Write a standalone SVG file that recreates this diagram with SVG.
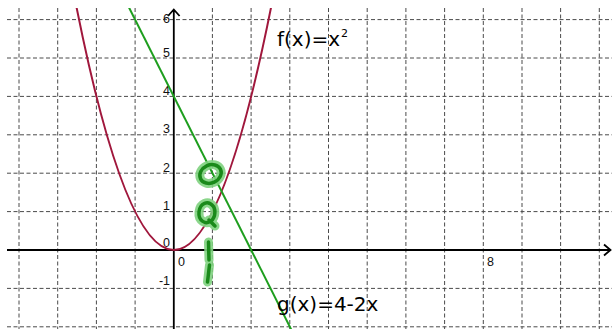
<svg xmlns="http://www.w3.org/2000/svg" width="612" height="329" viewBox="0 0 612 329">
<style>
.grid{stroke:#4a4a4a;stroke-width:1;stroke-dasharray:4 2.5;fill:none}
.axis{stroke:#000;stroke-width:1.8;fill:none}
.tick{font-family:"Liberation Sans",Arial,sans-serif;font-size:12.5px;fill:#111}
.lbl{font-family:"DejaVu Sans","Liberation Sans",sans-serif;font-size:20px;fill:#000}
.glow{stroke:#7fd27f;stroke-width:9;fill:none;stroke-linecap:round;stroke-linejoin:round;opacity:0.9}
.ink{stroke:#1a8a1a;stroke-width:3.5;fill:none;stroke-linecap:round;stroke-linejoin:round}
</style>
<defs>
<clipPath id="plot"><rect x="7" y="8" width="605" height="321"/></clipPath>
</defs>
<rect width="612" height="329" fill="#fff"/>
<g id="grid">
<path class="grid" d="M19,8V329M57.7,8V329M96.4,8V329M135.1,8V329M212.4,8V329M251.1,8V329M289.8,8V329M328.5,8V329M367.2,8V329M405.9,8V329M444.6,8V329M483.3,8V329M522,8V329M560.6,8V329M599.3,8V329"/>
<path class="grid" d="M7,19.6H612M7,58H612M7,96.4H612M7,134.8H612M7,173.2H612M7,211.6H612M7,288.4H612M7,326.8H612"/>
</g>
<g id="axes">
<path class="axis" d="M7,250H610M604,244.5L610.5,250L604,255.5"/>
<path class="axis" d="M173.8,329V10M168,16L173.8,9.5L179.6,16"/>
</g>
<g id="ticks">
<text class="tick" x="170" y="23" text-anchor="end">6</text>
<text class="tick" x="170" y="57" text-anchor="end">5</text>
<text class="tick" x="170" y="95" text-anchor="end">4</text>
<text class="tick" x="170" y="133" text-anchor="end">3</text>
<text class="tick" x="170" y="172" text-anchor="end">2</text>
<text class="tick" x="170" y="210" text-anchor="end">1</text>
<text class="tick" x="170" y="247" text-anchor="end">0</text>
<text class="tick" x="170" y="285" text-anchor="end">-1</text>
<text class="tick" x="178" y="266">0</text>
<text class="tick" x="487" y="266">8</text>
</g>
<g id="connectors" clip-path="url(#plot)">
<path id="f" d="M73.2,-9.6Q173.8,509.6 274.4,-9.6" stroke="#a0173c" stroke-width="2" fill="none"/>
<path id="g" d="M123.5,-3.4L297.6,342.2" stroke="#1e9e1e" stroke-width="2" fill="none"/>
</g>
<g id="label-f">
<text class="lbl" x="277" y="46">f(x)=x<tspan dx="1" dy="-9" style="font-size:11px">2</tspan></text>
</g>
<g id="label-g">
<text class="lbl" x="277" y="311">g(x)=4-2x</text>
</g>
<g id="ink">
<g class="glow">
<ellipse cx="210.5" cy="174" rx="11" ry="9" transform="rotate(-25 210.5 174)"/>
<path d="M213,206C208,200 200,203 199,212C198,221 206,225 211,221C216,217 216,208 212,205M209,220L215,226"/>
<path d="M208.5,242L209,260M209.5,265L207.5,282"/>
</g>
<g class="ink">
<ellipse cx="210.5" cy="174" rx="11" ry="9" transform="rotate(-25 210.5 174)"/>
<path d="M213,206C208,200 200,203 199,212C198,221 206,225 211,221C216,217 216,208 212,205M209,220L215,226"/>
<path d="M208.5,242L209,260M209.5,265L207.5,282"/>
</g>
</g>
</svg>
